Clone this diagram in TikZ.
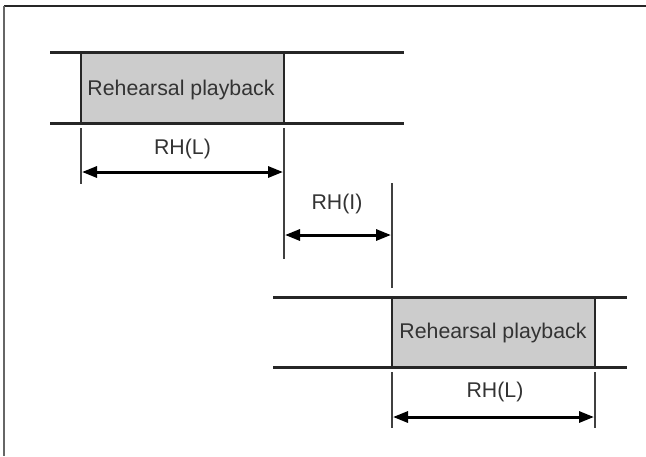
\documentclass[tikz,border=0pt]{standalone}
\usepackage{fontspec}
\setmainfont{Liberation Sans}
\usetikzlibrary{arrows.meta}
\begin{document}
\begin{tikzpicture}[x=1pt,y=-1pt,
  rail/.style={line width=3pt,draw=black!85},
  box/.style={draw=black!85,line width=1.4pt,fill=black!20},
  tick/.style={line width=1.4pt,draw=black!75},
  dim/.style={line width=3pt,{Triangle[length=15pt,width=11pt]}-{Triangle[length=15pt,width=11pt]}},
  lbl/.style={font=\fontsize{21.3}{23}\selectfont,text=black!80,inner sep=0pt},
  frame/.style={line width=2pt}]
\useasboundingbox (0,0) rectangle (646,456);
% frame
\draw[frame,draw=black!85] (4,6) -- (646,6);
\draw[frame,draw=black!60] (4,6) -- (4,456);
% top block
\path[box] (81,52) rectangle (284,123);
\node[lbl] (t1) at (181,90) {Rehearsal playback};
\draw[rail] (50,52) -- (404,52);
\draw[rail] (50,123) -- (404,123);
\coordinate (a1) at (81,128); \coordinate (a2) at (81,184);
\coordinate (b1) at (284,128); \coordinate (b2) at (284,259);
\draw[tick] (a1) -- (a2);
\draw[tick] (b1) -- (b2);
\coordinate (l1) at (82,172); \coordinate (l2) at (283,172);
\draw[dim] (l1) -- (l2);
\node[lbl] (rl1) at (182.5,149) {RH(L)};
% interval
\coordinate (c1) at (392,183); \coordinate (c2) at (392,288);
\draw[tick] (c1) -- (c2);
\coordinate (i1) at (285,235); \coordinate (i2) at (391,235);
\draw[dim] (i1) -- (i2);
\node[lbl] (ri) at (337,204) {RH(I)};
% bottom block
\path[box] (392,297) rectangle (595,367);
\node[lbl] (t2) at (493,333) {Rehearsal playback};
\draw[rail] (273,297) -- (627,297);
\draw[rail] (273,367) -- (627,367);
\coordinate (d1) at (392,372); \coordinate (d2) at (392,428);
\coordinate (e1) at (595,372); \coordinate (e2) at (595,428);
\draw[tick] (d1) -- (d2);
\draw[tick] (e1) -- (e2);
\coordinate (m1) at (393,417); \coordinate (m2) at (594,417);
\draw[dim] (m1) -- (m2);
\node[lbl] (rl2) at (495,392) {RH(L)};
\end{tikzpicture}
\end{document}
